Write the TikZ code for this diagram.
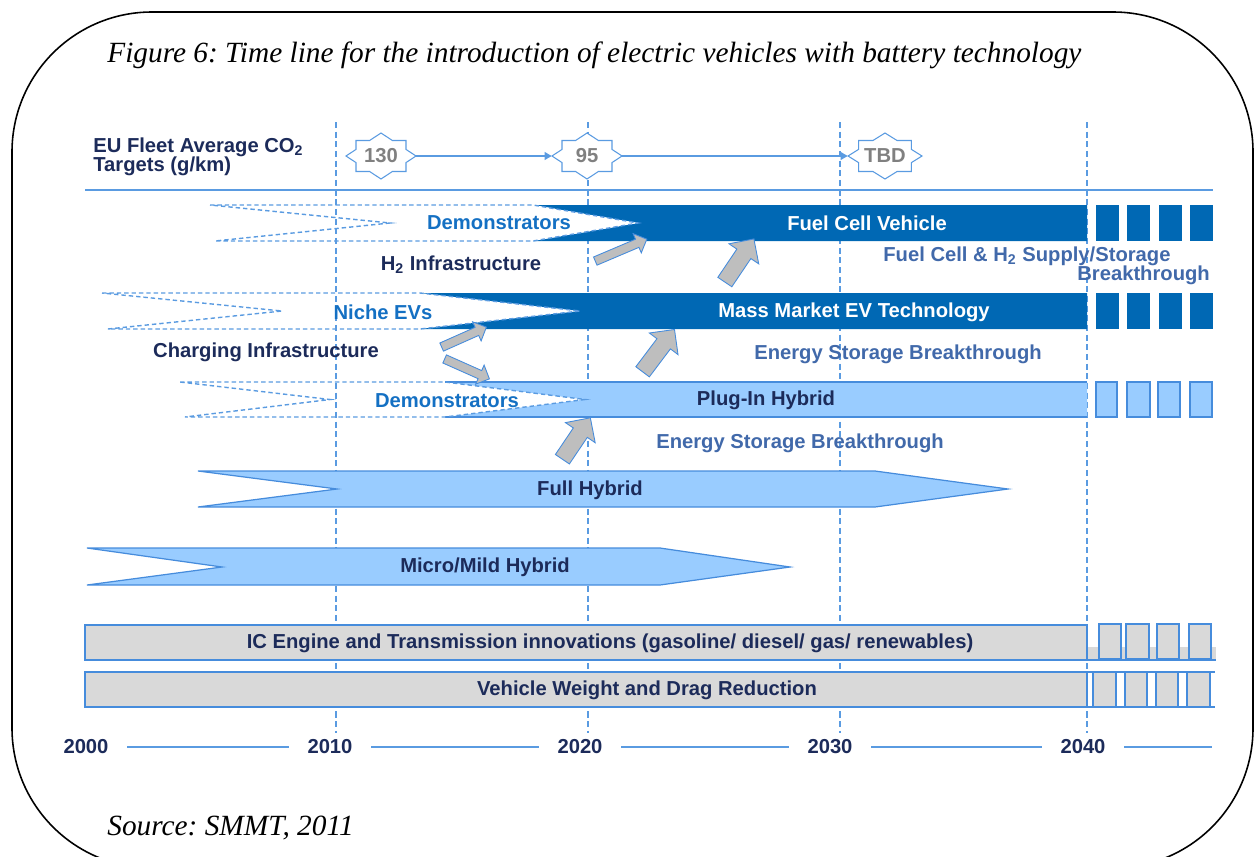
\documentclass[tikz,border=0pt]{standalone}
\usepackage{fontspec}
\setmainfont{Liberation Serif}
\setsansfont{Liberation Sans}
\usetikzlibrary{arrows.meta,shapes.arrows}
\frenchspacing

\definecolor{navy}{RGB}{28,43,90}
\definecolor{fcblue}{RGB}{0,104,180}
\definecolor{lightfill}{RGB}{153,204,255}
\definecolor{barline}{RGB}{70,140,220}
\definecolor{textblue}{RGB}{20,112,195}
\definecolor{steel}{RGB}{65,105,170}
\definecolor{gridblue}{RGB}{90,155,225}
\definecolor{barfill}{RGB}{217,217,217}
\definecolor{pushgray}{RGB}{190,190,190}
\definecolor{starnum}{RGB}{128,128,128}

\begin{document}
\begin{tikzpicture}[
    x=0.02cm, y=-0.02cm,
    txt/.style={font=\sffamily\bfseries\fontsize{11.5}{11}\selectfont, inner sep=0pt},
    dark/.style={txt, text=navy},
    bright/.style={txt, text=textblue},
    soft/.style={txt, text=steel},
    onbar/.style={txt, text=white},
    year/.style={txt, text=navy, inner xsep=10.5pt},
    caption/.style={anchor=west, inner sep=0pt, font=\itshape\fontsize{16.7}{19}\selectfont},
    target/.style={txt, text=starnum, minimum height=0.92cm},
    starline/.style={draw=gridblue, line width=0.6pt, fill=white},
    link/.style={draw=gridblue, line width=0.7pt, -{Triangle[length=4pt,width=4.5pt]}},
    gridline/.style={gridblue, line width=0.8pt, dash pattern=on 3.5pt off 2pt},
    demo/.style={gridblue, line width=0.8pt, dash pattern=on 2.5pt off 1.7pt},
    lightbar/.style={fill=lightfill, draw=barline, line width=0.7pt},
    greybar/.style={fill=barfill, draw=barline, line width=0.8pt},
    axisline/.style={gridblue, line width=0.8pt},
    push/.style={single arrow, draw=barline, fill=pushgray, line width=0.5pt,
        inner xsep=0pt, inner ysep=0.08cm, single arrow head extend=0.12cm},
    bigpush/.style={push, inner ysep=0.16cm, single arrow head extend=0.19cm}
]
\useasboundingbox (0,0) rectangle (1254,856);

% Cornice e didascalie
\draw[line width=0.9pt, rounded corners=2.8cm] (12,12) rectangle (1253,868);
\node[caption] (title) at (107,55)
    {Figure 6: Time line for the introduction of electric vehicles with battery technology};
\node[caption] (source) at (107,828) {Source: SMMT, 2011};

% Linee verticali degli anni
\foreach \x in {336,588,840,1087}
    \draw[gridline] (\x,122) -- (\x,733);

% Obiettivi CO2
\node[dark, anchor=west, align=left] (co2) at (93,157)
    {EU Fleet Average CO\textsubscript{2}\\Targets (g/km)};
\foreach \n/\x/\w/\t in {t130/381/35/130, t95/587/35/95, tbd/885/37/TBD} {
    \pgfmathsetmacro\rw{0.714*\w}
    \pgfmathsetmacro\qw{0.326*\w}
    \pgfmathsetmacro\mw{0.04*\w}
    \draw[starline, shift={(\x,156)}] (-\w,0) -- (-\rw,-6.6) -- (-\rw,-15.5) -- (-\qw,-15.5)
        -- (0,-23) -- (\qw,-15.5) -- (\rw,-15.5) -- (\rw,-6.6) -- (\w,0) -- (\rw,6.6)
        -- (\rw,15.5) -- (\qw,15.5) -- (0,23) -- (-\qw,15.5) -- (-\rw,15.5) -- (-\rw,6.6) -- cycle;
    \node[target, minimum width=\mw cm] (\n) at (\x,156) {\t};
}
\draw[link] (t130.east) -- (t95.west);
\draw[link] (t95.east) -- (tbd.west);
\draw[gridblue, line width=1.1pt] (85,190) -- (1213,190);

% Fuel Cell Vehicle
\fill[fcblue] (533,205) -- (1087,205) -- (1087,241) -- (533,241) -- (638,223) -- cycle;
\fill[white] (533,205) -- (638,223) -- (533,241) -- cycle;
\draw[demo] (210,205) -- (533,205) -- (638,223) -- (533,241) -- (215,241) -- (390,223) -- cycle;
\foreach \a/\b in {1096/1119,1127/1150,1159/1182,1190/1213}
    \fill[fcblue] (\a,205) rectangle (\b,241);

% Mass Market EV
\fill[fcblue] (420,293) -- (1087,293) -- (1087,329) -- (420,329) -- (580,311) -- cycle;
\draw[demo] (102,293) -- (420,293) -- (580,311) -- (420,329) -- (108,329) -- (282,311) -- cycle;
\foreach \a/\b in {1096/1119,1127/1150,1159/1182,1190/1213}
    \fill[fcblue] (\a,293) rectangle (\b,329);

% Plug-In Hybrid
\fill[lightfill] (445,382) -- (1087,382) -- (1087,417) -- (445,417) -- (585,399.5) -- cycle;
\draw[barline, line width=0.7pt] (445,382) -- (1087,382) (445,417) -- (1087,417);
\draw[demo] (180,382) -- (445,382) -- (585,399.5) -- (445,417) -- (185,417) -- (330,399.5) -- cycle;
\foreach \a/\b in {1096/1117,1127/1150,1158/1180,1190/1212}
    \draw[lightbar] (\a,382) rectangle (\b,417);

% Ibridi
\draw[lightbar] (198,471) -- (875,471) -- (1008,489) -- (875,507) -- (198,507) -- (337,489) -- cycle;
\draw[lightbar] (87,548) -- (660,548) -- (790,567) -- (660,585) -- (87,585) -- (222,567) -- cycle;

% Motore e peso
\fill[barfill] (1087,647) rectangle (1216,660);
\draw[greybar] (85,625) rectangle (1087,660);
\draw[barline, line width=0.8pt] (1087,660) -- (1216,660);
\foreach \a/\b in {1099/1121,1126/1149,1157/1179,1189/1211}
    \draw[greybar] (\a,624) rectangle (\b,659);
\draw[greybar] (85,672) rectangle (1087,707);
\foreach \a/\b in {1093/1116,1125/1147,1156/1178,1187/1210}
    \draw[greybar] (\a,672) rectangle (\b,707);
\draw[barline, line width=0.8pt] (1087,672) -- (1215,672) (1087,707) -- (1215,707);

% Etichette
\node[bright] (fcdemo) at (499,223) {Demonstrators};
\node[onbar] (fcv) at (867,223) {Fuel Cell Vehicle};
\node[dark] (h2) at (461,265) {H\textsubscript{2} Infrastructure};
\node[soft, anchor=west] (fcbreak) at (883,256) {Fuel Cell \& H\textsubscript{2} Supply/Storage};
\node[soft, anchor=west] (fcbreak2) at (1077,275) {Breakthrough};
\node[bright] (niche) at (383,312) {Niche EVs};
\node[onbar] (mass) at (854,312) {Mass Market EV Technology};
\node[dark] (charging) at (266,352) {Charging Infrastructure};
\node[soft] (esb1) at (898,354) {Energy Storage Breakthrough};
\node[bright] (phdemo) at (447,401) {Demonstrators};
\node[dark] (plugin) at (766,400) {Plug-In Hybrid};
\node[soft] (esb2) at (800,443) {Energy Storage Breakthrough};
\node[dark] (full) at (590,490) {Full Hybrid};
\node[dark] (micro) at (485,567) {Micro/Mild Hybrid};
\node[dark] (ice) at (610,643) {IC Engine and Transmission innovations (gasoline/ diesel/ gas/ renewables)};
\node[dark] (weight) at (647,690) {Vehicle Weight and Drag Reduction};

% Frecce di passaggio
\node[push, minimum height=1.12cm, rotate=23] (p1) at (619,251) {};
\node[bigpush, minimum height=1.04cm, rotate=56] (p2) at (737,264) {};
\node[push, minimum height=0.98cm, rotate=24] (p3) at (462,338) {};
\node[push, minimum height=0.98cm, rotate=-24] (p4) at (465,368) {};
\node[bigpush, minimum height=1.06cm, rotate=53] (p5) at (656,354) {};
\node[bigpush, minimum height=1.0cm, rotate=56] (p6) at (574,442) {};

% Asse del tempo
\node[year] (y2000) at (86,747) {2000};
\node[year] (y2010) at (330,747) {2010};
\node[year] (y2020) at (580,747) {2020};
\node[year] (y2030) at (830,747) {2030};
\node[year] (y2040) at (1083,747) {2040};
\coordinate (axisend) at (1212,747);
\foreach \a/\b in {y2000/y2010,y2010/y2020,y2020/y2030,y2030/y2040}
    \draw[axisline] (\a.east) -- (\b.west);
\draw[axisline] (y2040.east) -- (axisend);

\end{tikzpicture}
\end{document}
